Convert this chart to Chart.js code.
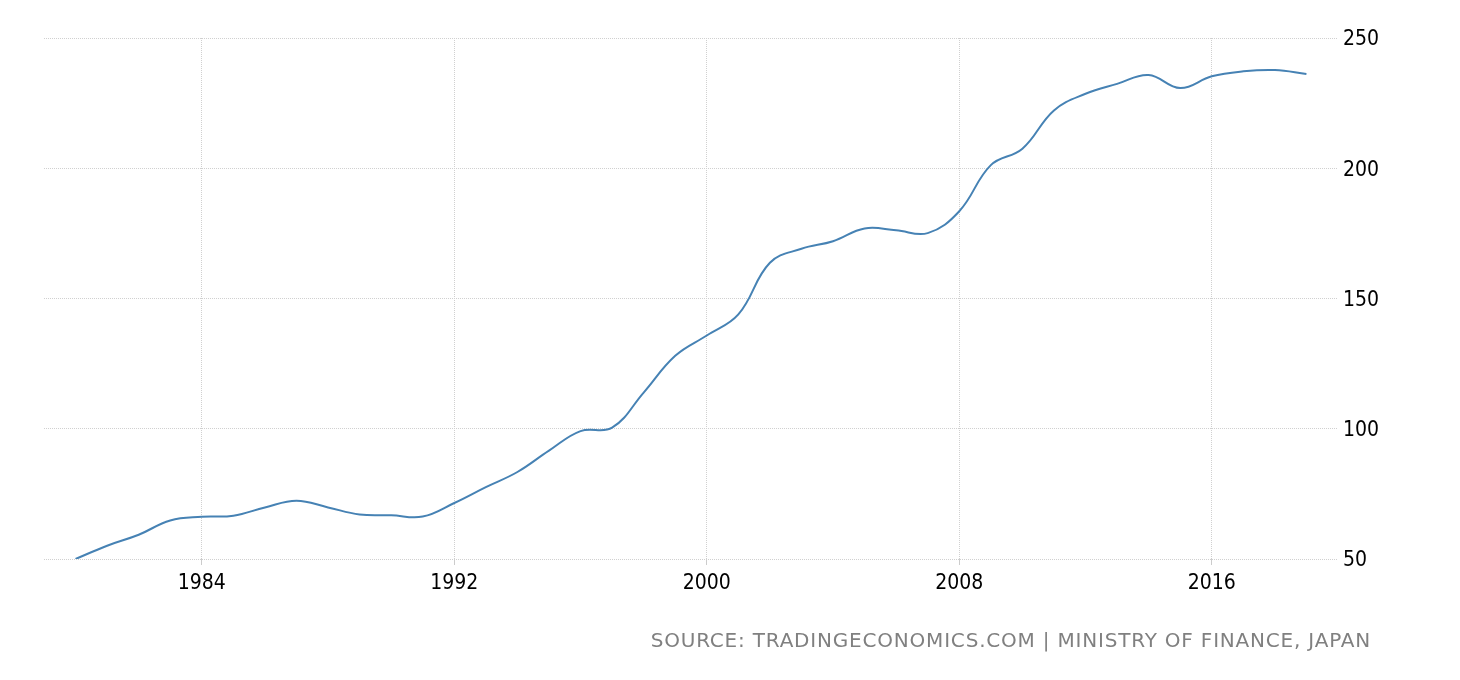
<!DOCTYPE html>
<html>
<head>
<meta charset="utf-8">
<script src="https://cdn.jsdelivr.net/npm/chart.js@4"></script>
<style>
  html, body { margin: 0; padding: 0; background: #fff; }
  #wrap { width: 1460px; height: 680px; position: relative; }
</style>
</head>
<body>
<div id="wrap"><canvas id="c"></canvas></div>
<script>
const years = [1980,1981,1982,1983,1984,1985,1986,1987,1988,1989,1990,1991,1992,1993,1994,1995,1996,1997,1998,1999,
               2000,2001,2002,2003,2004,2005,2006,2007,2008,2009,2010,2011,2012,2013,2014,2015,2016,2017,2018,2019];
const debtToGdp = [50.0,55.1,59.3,64.8,66.2,66.6,69.8,72.4,69.8,67.1,66.8,66.3,71.5,77.6,83.4,91.6,99.1,100.4,113.9,128.0,
                   135.8,143.9,163.7,169.1,172.0,176.9,176.2,175.1,183.5,201.2,207.5,222.2,228.6,232.4,235.8,230.8,235.3,237.2,237.7,236.2];
const xTickYears = [1984, 1992, 2000, 2008, 2016];
const yTicks = [50, 100, 150, 200, 250];
const sourceText = 'SOURCE: TRADINGECONOMICS.COM | MINISTRY OF FINANCE, JAPAN';

const FONT = '"DejaVu Sans Condensed", "DejaVu Sans", sans-serif';
const gridColor = '#d0d0d0';

const sourcePlugin = {
  id: 'sourceNote',
  afterDraw(chart) {
    const ctx = chart.ctx;
    ctx.save();
    ctx.font = '20px "DejaVu Sans", sans-serif';
    ctx.fillStyle = '#808080';
    ctx.textAlign = 'right';
    ctx.textBaseline = 'middle';
    try { ctx.letterSpacing = '0.8px'; } catch (e) {}
    ctx.fillText(sourceText, chart.chartArea.right + 33, 642);
    ctx.restore();
  }
};

new Chart(document.getElementById('c'), {
  type: 'line',
  data: {
    datasets: [{
      data: years.map((y, i) => ({ x: y, y: debtToGdp[i] })),
      borderColor: '#4682b4',
      borderWidth: 2,
      pointRadius: 0,
      pointHoverRadius: 0,
      tension: 0.4,
      fill: false
    }]
  },
  plugins: [sourcePlugin],
  options: {
    responsive: true,
    maintainAspectRatio: false,
    animation: false,
    layout: { padding: { left: 44, right: 0, top: 38, bottom: 60 } },
    plugins: {
      legend: { display: false },
      tooltip: { enabled: false },
      title: { display: false }
    },
    scales: {
      x: {
        type: 'linear',
        min: 1979,
        max: 2020,
        afterBuildTicks: (scale) => { scale.ticks = xTickYears.map(v => ({ value: v })); },
        afterFit: (scale) => { scale.height = 61; },
        grid: {
          color: gridColor,
          lineWidth: 1,
          drawTicks: true,
          tickLength: 6,
          tickColor: '#cccccc',
          tickBorderDash: []
        },
        border: { display: false, dash: [1, 1] },
        ticks: {
          color: '#000',
          font: { family: FONT, size: 21 },
          padding: 6,
          maxRotation: 0,
          callback: (v) => String(v)
        }
      },
      y: {
        position: 'right',
        min: 50,
        max: 250,
        afterBuildTicks: (scale) => { scale.ticks = yTicks.map(v => ({ value: v })); },
        afterFit: (scale) => { scale.width = 122; },
        grid: {
          color: gridColor,
          lineWidth: 1,
          drawTicks: false
        },
        border: { display: false, dash: [1, 1] },
        ticks: {
          color: '#000',
          font: { family: FONT, size: 21 },
          padding: 5,
          labelOffset: 2,
          callback: (v) => String(v)
        }
      }
    }
  }
});
</script>
</body>
</html>
